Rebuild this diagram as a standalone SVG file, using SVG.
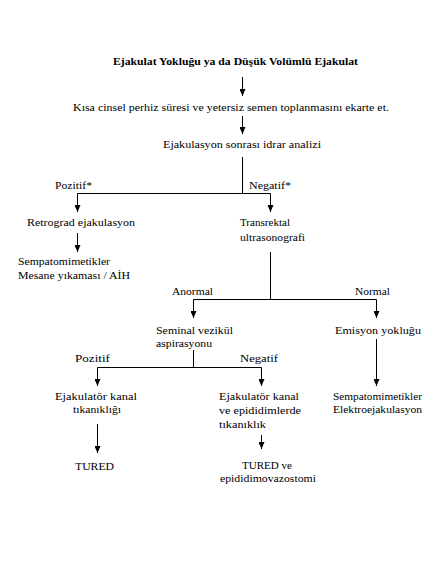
<svg xmlns="http://www.w3.org/2000/svg" width="429" height="563" viewBox="0 0 429 563">
<style>
text{font-family:"Liberation Serif","Times New Roman",serif;font-size:11px;fill:#000}
.b{font-weight:bold}
.c line,.c polyline{stroke:#000;stroke-width:1;fill:none}
.a{marker-end:url(#ah)}
.a2{marker-start:url(#ah);marker-end:url(#ah)}
</style>
<defs>
<marker id="ah" viewBox="0 0 7 6" refX="7" refY="3" markerWidth="7" markerHeight="6" markerUnits="userSpaceOnUse" orient="auto-start-reverse">
<path d="M0,0 L7,3 L0,6 Z" fill="#000"/>
</marker>
</defs>
<rect width="429" height="563" fill="#fff"/>
<g class="c" id="connectors">
<line class="a" x1="242.5" y1="77" x2="242.5" y2="96"/>
<line class="a" x1="242.5" y1="116" x2="242.5" y2="134"/>
<line x1="242.5" y1="157" x2="242.5" y2="193"/>
<polyline class="a2" points="77.5,212 77.5,193.5 270.5,193.5 270.5,212"/>
<line class="a" x1="77.5" y1="233" x2="77.5" y2="252"/>
<line x1="270.5" y1="252" x2="270.5" y2="299"/>
<polyline class="a2" points="193.5,318 193.5,299.5 376.5,299.5 376.5,318"/>
<line x1="193.5" y1="350" x2="193.5" y2="367"/>
<polyline class="a2" points="97.5,386 97.5,367.5 261.5,367.5 261.5,386"/>
<line class="a" x1="376.5" y1="339" x2="376.5" y2="386"/>
<line class="a" x1="97.5" y1="424" x2="97.5" y2="453"/>
<line class="a" x1="261.5" y1="435" x2="261.5" y2="449"/>
</g>
<g id="title"><text class="b" x="113" y="65" textLength="245" lengthAdjust="spacingAndGlyphs">Ejakulat Yokluğu ya da Düşük Volümlü Ejakulat</text></g>
<g id="n1"><text x="73" y="111" textLength="316" lengthAdjust="spacingAndGlyphs">Kısa cinsel perhiz süresi ve yetersiz semen toplanmasını ekarte et.</text></g>
<g id="n2"><text x="163" y="148" textLength="158" lengthAdjust="spacingAndGlyphs">Ejakulasyon sonrası idrar analizi</text></g>
<g id="l1"><text x="55" y="189" textLength="37" lengthAdjust="spacingAndGlyphs">Pozitif*</text></g>
<g id="l2"><text x="249" y="189" textLength="42" lengthAdjust="spacingAndGlyphs">Negatif*</text></g>
<g id="n3"><text x="27" y="226" textLength="108" lengthAdjust="spacingAndGlyphs">Retrograd ejakulasyon</text></g>
<g id="n4"><text x="240" y="226" textLength="50" lengthAdjust="spacingAndGlyphs">Transrektal</text><text x="240" y="241" textLength="65" lengthAdjust="spacingAndGlyphs">ultrasonografi</text></g>
<g id="n5"><text x="18" y="265" textLength="92" lengthAdjust="spacingAndGlyphs">Sempatomimetikler</text><text x="18" y="279" textLength="112" lengthAdjust="spacingAndGlyphs">Mesane yıkaması / AİH</text></g>
<g id="l3"><text x="172" y="295" textLength="41" lengthAdjust="spacingAndGlyphs">Anormal</text></g>
<g id="l4"><text x="355" y="295" textLength="35" lengthAdjust="spacingAndGlyphs">Normal</text></g>
<g id="n6"><text x="156" y="334" textLength="77" lengthAdjust="spacingAndGlyphs">Seminal vezikül</text><text x="156" y="347" textLength="56" lengthAdjust="spacingAndGlyphs">aspirasyonu</text></g>
<g id="n7"><text x="335" y="334" textLength="86" lengthAdjust="spacingAndGlyphs">Emisyon yokluğu</text></g>
<g id="l5"><text x="75" y="362" textLength="35" lengthAdjust="spacingAndGlyphs">Pozitif</text></g>
<g id="l6"><text x="240" y="362" textLength="38" lengthAdjust="spacingAndGlyphs">Negatif</text></g>
<g id="n8"><text x="55" y="400" textLength="82" lengthAdjust="spacingAndGlyphs">Ejakulatör kanal</text><text x="73" y="413" textLength="48" lengthAdjust="spacingAndGlyphs">tıkanıklığı</text></g>
<g id="n9"><text x="219" y="400" textLength="80" lengthAdjust="spacingAndGlyphs">Ejakulatör kanal</text><text x="219" y="414" textLength="82" lengthAdjust="spacingAndGlyphs">ve epididimlerde</text><text x="219" y="428" textLength="47" lengthAdjust="spacingAndGlyphs">tıkanıklık</text></g>
<g id="n10"><text x="333" y="400" textLength="89" lengthAdjust="spacingAndGlyphs">Sempatomimetikler</text><text x="333" y="413" textLength="89" lengthAdjust="spacingAndGlyphs">Elektroejakulasyon</text></g>
<g id="n11"><text x="75" y="470" textLength="39" lengthAdjust="spacingAndGlyphs">TURED</text></g>
<g id="n12"><text x="242" y="469" textLength="50" lengthAdjust="spacingAndGlyphs">TURED ve</text><text x="220" y="482" textLength="96" lengthAdjust="spacingAndGlyphs">epididimovazostomi</text></g>
</svg>
